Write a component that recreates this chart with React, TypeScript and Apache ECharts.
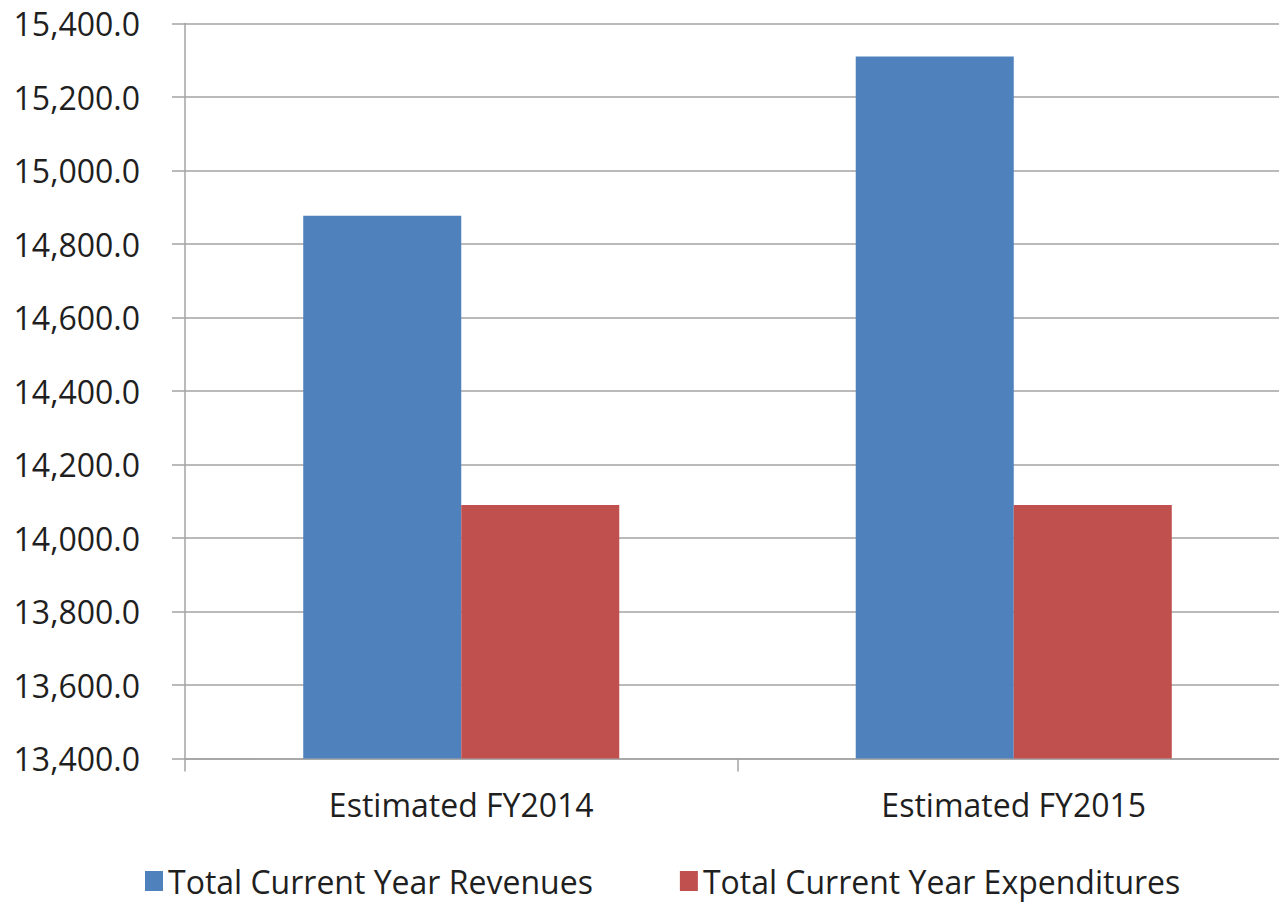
import React, { useEffect, useRef } from "react";
import * as echarts from "echarts";

const categories = ["Estimated FY2014", "Estimated FY2015"];
const revenues = [14877, 15310];
const expenditures = [14090, 14090];
const seriesNames = ["Total Current Year Revenues", "Total Current Year Expenditures"];
const yMin = 13400;
const yMax = 15400;
const yStep = 200;

const FONT = "'Open Sans', 'Noto Sans', sans-serif";
const TEXT = "#1f1f1f";
const LINE = "#a3a3a3";
const FS = 32;

export default function App() {
  const ref = useRef<HTMLDivElement>(null);

  useEffect(() => {
    if (!ref.current) return;
    const chart = echarts.init(ref.current, null, { renderer: "svg" });
    const fmt = (v: number) =>
      v.toLocaleString("en-US", { minimumFractionDigits: 1, maximumFractionDigits: 1 });
    chart.setOption({
      animation: false,
      backgroundColor: "#ffffff",
      textStyle: { fontFamily: FONT },
      grid: { left: 185, top: 23.5, width: 1105, height: 735, containLabel: false },
      legend: {
        left: 145,
        top: 865,
        padding: 0,
        itemWidth: 18,
        itemHeight: 20,
        itemGap: 87,
        icon: "rect",
        textStyle: { fontFamily: FONT, fontSize: FS, lineHeight: 30, color: TEXT, padding: [0, 0, 0, 0] },
        data: seriesNames,
      },
      xAxis: {
        type: "category",
        data: categories,
        axisLine: { show: true, lineStyle: { color: LINE, width: 1.5 } },
        axisTick: { show: true, length: 13, alignWithLabel: false, lineStyle: { color: LINE, width: 1.5 } },
        axisLabel: { margin: 30, fontFamily: FONT, fontSize: FS, color: TEXT },
      },
      yAxis: {
        type: "value",
        min: yMin,
        max: yMax,
        interval: yStep,
        axisLine: { show: true, lineStyle: { color: LINE, width: 1.5 } },
        axisTick: { show: true, length: 13, lineStyle: { color: LINE, width: 1.5 } },
        splitLine: { show: true, lineStyle: { color: LINE, width: 1.5 } },
        axisLabel: { margin: 45, fontFamily: FONT, fontSize: FS, color: TEXT, formatter: fmt },
      },
      series: [
        {
          name: seriesNames[0],
          type: "bar",
          data: revenues,
          barGap: "0%",
          barCategoryGap: "42.8%",
          itemStyle: { color: "#4f81bd" },
        },
        {
          name: seriesNames[1],
          type: "bar",
          data: expenditures,
          barGap: "0%",
          barCategoryGap: "42.8%",
          itemStyle: { color: "#c0504d" },
        },
      ],
    });
    return () => chart.dispose();
  }, []);

  return (
    <div
      style={{
        position: "fixed",
        left: 0,
        top: 0,
        width: 1279,
        height: 903,
        overflow: "hidden",
        background: "#fff",
      }}
    >
      <div ref={ref} style={{ width: 1300, height: 903 }} />
    </div>
  );
}
